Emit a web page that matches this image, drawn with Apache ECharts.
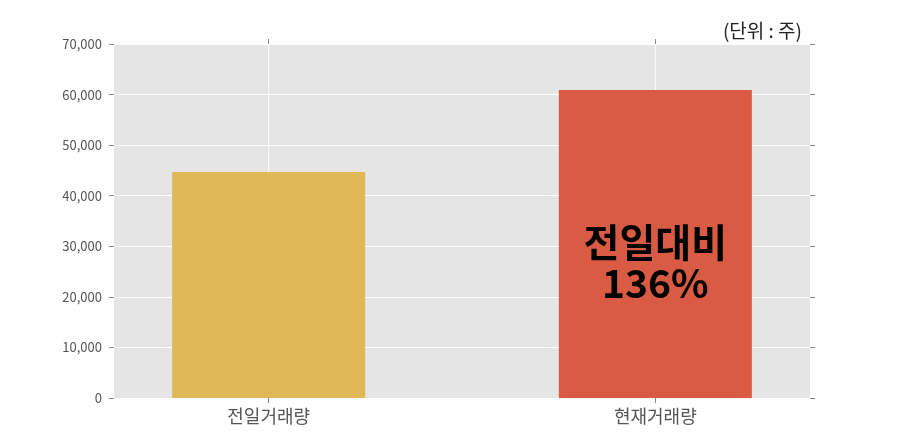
<!DOCTYPE html>
<html><head><meta charset="utf-8">
<script src="https://cdn.jsdelivr.net/npm/echarts@6/dist/echarts.min.js"></script>
<style>html,body{margin:0;padding:0;background:#fff}#c{width:900px;height:443px}</style>
</head><body><div id="c"></div>
<script>
const categories = ['전일거래량', '현재거래량'];
const volumes = [44700, 60900];
const barColors = ['#e0b858', '#d95b43'];
const compareText = ['전일대비', '136%'];
const unitText = '(단위 : 주)';
const yTicks = [0, 10000, 20000, 30000, 40000, 50000, 60000, 70000];

const font = '"Noto Sans CJK KR", "Noto Sans", sans-serif';
const chart = echarts.init(document.getElementById('c'), null, {renderer: 'canvas'});
const positions = categories.map((_, i) => i);
const yMin = yTicks[0], yMax = yTicks[yTicks.length - 1];
const fmt = v => v.toLocaleString('en-US');

chart.setOption({
  animation: false,
  textStyle: {fontFamily: font},
  grid: {left: 114, right: 90, top: 44, bottom: 45, show: true, backgroundColor: '#e5e5e5', borderWidth: 0},
  title: {text: unitText, right: 93, top: 16, textStyle: {fontSize: 19, fontWeight: 'normal', color: '#222', fontFamily: font}},
  xAxis: [{
    type: 'value', min: -0.4, max: 1.4, position: 'bottom',
    axisLine: {show: false, onZero: false}, splitLine: {show: false},
    axisTick: {show: true, customValues: positions, length: 5, lineStyle: {color: '#888'}},
    axisLabel: {customValues: positions, formatter: v => categories[Math.round(v)], fontSize: 18, color: '#555', margin: 9, fontFamily: font}
  }, {
    type: 'value', min: -0.4, max: 1.4, position: 'top',
    axisLine: {show: false, onZero: false}, splitLine: {show: false},
    axisTick: {show: true, customValues: positions, length: 5, lineStyle: {color: '#888'}},
    axisLabel: {show: false}
  }],
  yAxis: [{
    type: 'value', min: yMin, max: yMax, interval: 10000, position: 'left',
    axisLine: {show: false, onZero: false},
    axisTick: {show: true, length: 5, lineStyle: {color: '#888'}},
    splitLine: {show: true, lineStyle: {color: '#fff', width: 1}},
    axisLabel: {formatter: fmt, fontSize: 13, color: '#555', margin: 12, fontFamily: font}
  }, {
    type: 'value', min: yMin, max: yMax, interval: 10000, position: 'right',
    axisLine: {show: false, onZero: false},
    axisTick: {show: true, length: 5, lineStyle: {color: '#888'}},
    splitLine: {show: false}, axisLabel: {show: false}
  }],
  series: [{
    type: 'custom', z: 1, silent: true,
    data: positions,
    renderItem: (params, api) => {
      const x = api.value(0);
      const p0 = api.coord([x, yMin]);
      const p1 = api.coord([x, yMax]);
      return {type: 'line', shape: {x1: p0[0], y1: p0[1], x2: p1[0], y2: p1[1]}, style: {stroke: '#fff', lineWidth: 1}};
    },
    encode: {x: 0}
  }, {
    type: 'bar', z: 3, barWidth: 193,
    data: volumes.map((v, i) => ({
      value: [positions[i], v],
      itemStyle: {color: barColors[i]},
      label: i === 1 ? {show: true, position: 'inside', offset: [0, 19], formatter: compareText.join('\n'),
        fontSize: 39, fontWeight: 'bold', color: '#000', lineHeight: 41, fontFamily: font} : {show: false}
    }))
  }]
});
</script></body></html>
